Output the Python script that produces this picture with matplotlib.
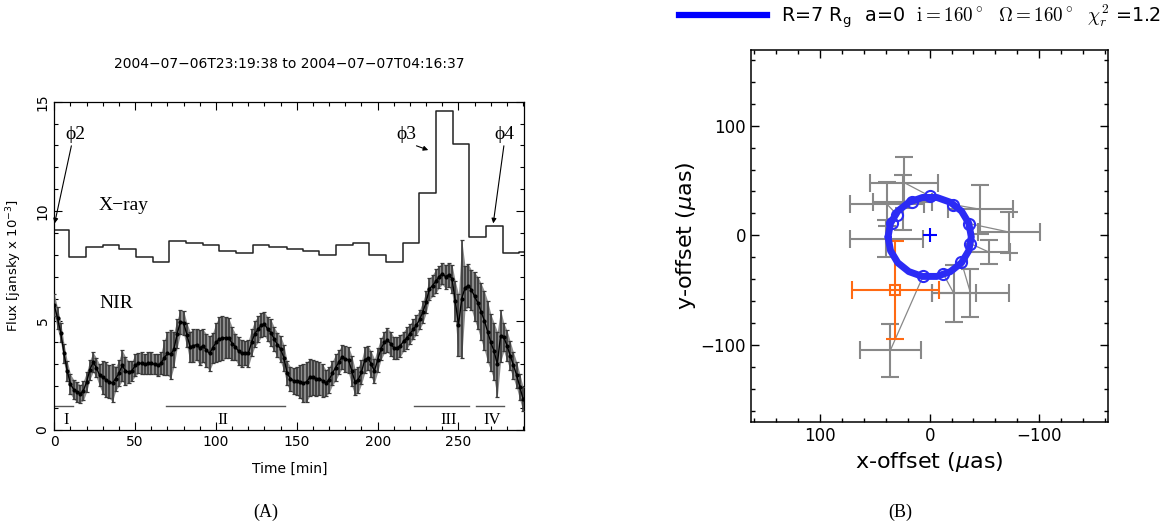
import matplotlib
matplotlib.use("Agg")
import matplotlib.pyplot as plt
from matplotlib.ticker import MultipleLocator
from matplotlib.lines import Line2D
from matplotlib.font_manager import FontProperties

# ---------------- Panel A data ----------------
xray_t_start = [0, 9.1, 19.6, 29.9, 40.2, 50.5, 60.9, 71.1, 81.4, 91.8, 102.0, 112.4,
                122.7, 133.0, 143.7, 154.0, 163.9, 174.2, 184.5, 194.8, 205.1, 215.5,
                225.7, 236.1, 246.4, 256.6, 267.0, 277.3, 287.6]
xray_flux = [9.13, 7.89, 8.36, 8.45, 8.25, 7.90, 7.68, 8.63, 8.55, 8.45, 8.16, 8.08,
             8.45, 8.36, 8.25, 8.16, 7.98, 8.45, 8.55, 7.98, 7.68, 8.55,
             10.81, 14.57, 13.06, 8.83, 9.32, 8.10, 8.14]
t_end = 290.7

nir_t = list(range(0, 292, 2))
nir_flux = [5.7, 5.1, 4.45, 3.5, 2.7, 2.1,
            1.85, 1.75, 1.65, 1.8, 2.2, 2.75, 3.1, 2.85,
            2.5, 2.4, 2.3, 2.2, 2.15, 2.35, 2.6, 2.95, 2.7, 2.65,
            2.7, 2.95, 3.05, 3.05, 3.0, 3.05, 3.05, 3.0, 2.95, 3.05,
            3.3, 3.5, 3.45, 3.7,
            4.4, 4.95, 4.9, 4.35,
            3.8, 3.85, 3.9, 3.75, 3.85, 3.65, 3.5, 3.75,
            4.0, 4.15, 4.2, 4.22, 4.2, 3.95,
            3.8, 3.6, 3.5, 3.5, 3.5, 4.0, 4.4, 4.6, 4.8, 4.85, 4.6, 4.45, 4.15, 3.9, 3.7, 3.3,
            2.6, 2.35, 2.25, 2.25,
            2.2, 2.15, 2.2, 2.4, 2.4, 2.35, 2.35, 2.25,
            2.15, 2.3, 2.6, 2.85, 3.1, 3.35, 3.25, 3.2, 2.7, 2.2, 2.3, 2.65, 3.2, 3.3, 3.0, 2.7,
            3.2, 3.7, 4.0, 4.1, 3.95, 3.75, 3.75, 3.85, 4.05, 4.2, 4.4, 4.6, 4.8, 5.05, 5.4,
            5.85, 6.45, 6.6, 6.8, 7.0, 7.15, 7.0, 7.1,
            6.9, 5.9, 4.8, 6.0, 6.5, 6.6, 6.4,
            6.1, 5.8, 5.4, 5.0, 4.5, 4.0, 3.6, 3.0, 4.3, 4.25, 3.85,
            3.4, 2.95, 2.5, 1.95, 1.4]
nir_err = [0.5, 0.5, 0.45, 0.45, 0.45, 0.45,
           0.45, 0.45, 0.4, 0.45, 0.45, 0.45, 0.45, 0.45,
           0.5, 0.75, 0.8, 0.75, 0.85, 0.55, 0.6, 0.7, 0.65, 0.5,
           0.45, 0.5, 0.45, 0.5, 0.45, 0.5, 0.5, 0.45, 0.5, 0.5,
           0.8, 1.0, 1.1, 0.8,
           0.65, 0.55, 0.55, 0.55,
           0.7, 0.75, 0.7, 0.8, 0.75, 0.75, 0.8, 0.7,
           0.9, 1.0, 1.0, 0.95, 0.9, 0.75,
           0.6, 0.65, 0.6, 0.55, 0.6, 0.6, 0.6, 0.6, 0.55, 0.55, 0.55, 0.6, 0.55, 0.55, 0.6, 0.6,
           0.55, 0.55, 0.6, 0.65,
           0.75, 0.85, 0.9, 0.85, 0.8, 0.8, 0.75, 0.75,
           0.6, 0.6, 0.55, 0.6, 0.55, 0.55, 0.6, 0.6, 0.7, 0.6, 0.6, 0.55, 0.6, 0.55, 0.6, 0.55,
           0.55, 0.5, 0.5, 0.55, 0.55, 0.5, 0.5, 0.5, 0.45, 0.5, 0.45, 0.45, 0.45, 0.45, 0.5,
           0.5, 0.5, 0.5, 0.55, 0.5, 0.5, 0.55, 0.55,
           0.65, 0.9, 1.4, 2.7, 1.0, 1.0, 0.9,
           1.1, 1.2, 1.3, 1.35, 1.4, 1.3, 1.3, 1.5, 1.2, 0.65, 0.7,
           0.65, 0.6, 0.6, 0.6, 0.55]

segments = [(0, 11.4, "I"), (69.1, 142.7, "II"), (222.5, 256.7, "III"), (260.6, 278.0, "IV")]
segment_label_t = [7.2, 104.5, 243.7, 270.9]

# ---------------- Panel B data ----------------
orbit_x = [38, 35.7, 29.1, 19.0, 6.6, -6.6, -19.0, -29.1, -35.7, -38,
           -35.7, -29.1, -19.0, -6.6, 6.6, 19.0, 29.1, 35.7, 38]
orbit_y = [-1.5, 11.0, 22.0, 30.1, 34.5, 34.5, 30.1, 22.0, 11.0, -1.5,
           -14.0, -25.0, -33.1, -37.5, -37.5, -33.1, -25.0, -14.0, -1.5]
model_x = [34.4, 29.8, 15.8, -0.4, -21.4, -36.0, -37.2, -29.0, -12.5, 6.0]
model_y = [11.3, 18.9, 30.4, 35.6, 28.0, 10.7, -7.6, -24.4, -35.3, -37.2]
obs_x = [39.5, 38.9, 24.6, 23.4, -46.3, -72.2, -53.9, -37.2, -21.9, 35.9]
obs_y = [-3.0, 28.3, 30.0, 48.1, 23.7, 3.0, -15.2, -52.4, -52.7, -105.0]
obs_xerr = [33.4, 34.0, 27.0, 31.0, 29.8, 28.4, 19.8, 35.4, 20.0, 28.0]
obs_yerr = [16.7, 20.0, 25.4, 23.4, 22.5, 18.7, 11.3, 22.0, 26.0, 24.4]
orange_x, orange_y, orange_xerr, orange_yerr = 31.3, -50.0, 40.0, 45.0

W, H = 1172, 526
fig = plt.figure(figsize=(W / 100, H / 100), dpi=100)

# ================= Panel A =================
axA = fig.add_axes([54.3 / W, 1 - 430 / H, 470 / W, 328.3 / H])
serif = ['Liberation Serif', 'DejaVu Serif']

axA.step(xray_t_start + [t_end], xray_flux + [xray_flux[-1]], where='post',
         color='#222222', lw=1.1)
lo = [f - e for f, e in zip(nir_flux, nir_err)]
hi = [f + e for f, e in zip(nir_flux, nir_err)]
axA.fill_between(nir_t, lo, hi, color='#8c8c8c', lw=0, zorder=2)
axA.errorbar(nir_t, nir_flux, yerr=nir_err, fmt='o-', color='black', ms=2, lw=1.0,
             ecolor='#383838', elinewidth=1.2, capsize=1.6, capthick=0.9, zorder=3)

for (a, b, lab), tl in zip(segments, segment_label_t):
    axA.plot([a, b], [1.1, 1.1], color='#555555', lw=1.0)
    axA.text(tl, 0.45, lab, ha='center', va='center', fontsize=12, family=serif)

axA.text(42.7, 10.27, "X\u2212ray", ha='center', va='center', fontsize=14, family=serif)
axA.text(38.6, 5.78, "NIR", ha='center', va='center', fontsize=14, family=serif)

arrow = dict(arrowstyle='-|>', color='black', lw=0.8, mutation_scale=7, shrinkA=0, shrinkB=0)
axA.annotate("\u03d52", xy=(0.2, 9.44), xytext=(12.8, 13.5), ha='center', va='center',
             fontsize=14, family=serif, arrowprops=dict(arrow, relpos=(0.35, 0.0)))
axA.annotate("\u03d53", xy=(231.3, 12.79), xytext=(218.0, 13.5), ha='center', va='center',
             fontsize=14, family=serif, arrowprops=dict(arrow, relpos=(0.6, 0.0)))
axA.annotate("\u03d54", xy=(271.5, 9.44), xytext=(278.3, 13.5), ha='center', va='center',
             fontsize=14, family=serif, arrowprops=dict(arrow, relpos=(0.5, 0.0)))

axA.set_xlim(0, t_end)
axA.set_ylim(0, 15)
axA.xaxis.set_major_locator(MultipleLocator(50))
axA.xaxis.set_minor_locator(MultipleLocator(10))
axA.yaxis.set_major_locator(MultipleLocator(5))
axA.yaxis.set_minor_locator(MultipleLocator(1))
axA.tick_params(which='both', direction='in', top=True, right=True, labelsize=10, width=0.8)
axA.tick_params(which='major', length=6)
axA.tick_params(which='minor', length=3)
for lab in axA.get_yticklabels():
    lab.set_rotation(90)
    lab.set_va('center')
for s in axA.spines.values():
    s.set_linewidth(0.9)
axA.set_xlabel("Time [min]", fontsize=10, labelpad=9)
axA.set_ylabel("Flux [jansky x 10$^{-3}$]", fontsize=9.5, labelpad=8)
axA.set_title("2004\u221207\u221206T23:19:38 to 2004\u221207\u221207T04:16:37", fontsize=10, pad=24)

fig.text(266 / W, 1 - 512 / H, "(A)", ha='center', va='center', fontsize=13, family=serif)

# ================= Panel B =================
axB = fig.add_axes([751 / W, 1 - 421.7 / H, 357.3 / W, 371.7 / H])
gray = '#888888'
for mx, my, ox, oy in zip(model_x, model_y, obs_x, obs_y):
    axB.plot([mx, ox], [my, oy], color=gray, lw=0.9, zorder=2)
axB.errorbar(obs_x, obs_y, xerr=obs_xerr, yerr=obs_yerr, fmt='none', ecolor=gray,
             elinewidth=1.5, capsize=6.5, capthick=1.5, zorder=2)
axB.errorbar([orange_x], [orange_y], xerr=[orange_xerr], yerr=[orange_yerr], fmt='s',
             mfc='none', mec='#ff6a13', ms=7, mew=1.5, ecolor='#ff6a13',
             elinewidth=1.5, capsize=6.5, capthick=1.5, zorder=3)
axB.plot(orbit_x, orbit_y, color='#2b2bf5', lw=5, zorder=4, solid_capstyle='round')
axB.plot(model_x, model_y, 'o', mfc='none', mec='#2b2bf5', ms=8, mew=1.5, zorder=5)
axB.plot([0], [0], '+', color='#0000ff', ms=10, mew=1.5, zorder=5)

axB.set_xlim(163, -163)
axB.set_ylim(-170, 169)
axB.xaxis.set_major_locator(MultipleLocator(100))
axB.xaxis.set_minor_locator(MultipleLocator(20))
axB.yaxis.set_major_locator(MultipleLocator(100))
axB.yaxis.set_minor_locator(MultipleLocator(20))
axB.tick_params(which='both', direction='in', top=True, right=True, labelsize=12, width=1.0)
axB.tick_params(which='major', length=6)
axB.tick_params(which='minor', length=3)
for s in axB.spines.values():
    s.set_linewidth(1.1)
axB.set_xlabel(r"x-offset ($\mu$as)", fontsize=16, labelpad=4)
axB.set_ylabel(r"y-offset ($\mu$as)", fontsize=16, labelpad=2)

handle = Line2D([], [], color='#0000ff', lw=4.5)
label = (r"R=7 R$_\mathregular{g}$  a=0  $\mathrm{i=160^\circ}$  "
         r"$\mathit{\Omega}\mathrm{=160^\circ}$  $\chi_r^2$ =1.2")
fig.legend([handle], [label], loc='center left', bbox_to_anchor=(679 / W, 1 - 16 / H),
           frameon=False, borderpad=0, borderaxespad=0, handlelength=4.6,
           handletextpad=0.7, prop=FontProperties(size=13.8, math_fontfamily='cm'))

fig.text(900 / W, 1 - 512 / H, "(B)", ha='center', va='center', fontsize=13, family=serif)

fig.savefig("out.png", dpi=100)
